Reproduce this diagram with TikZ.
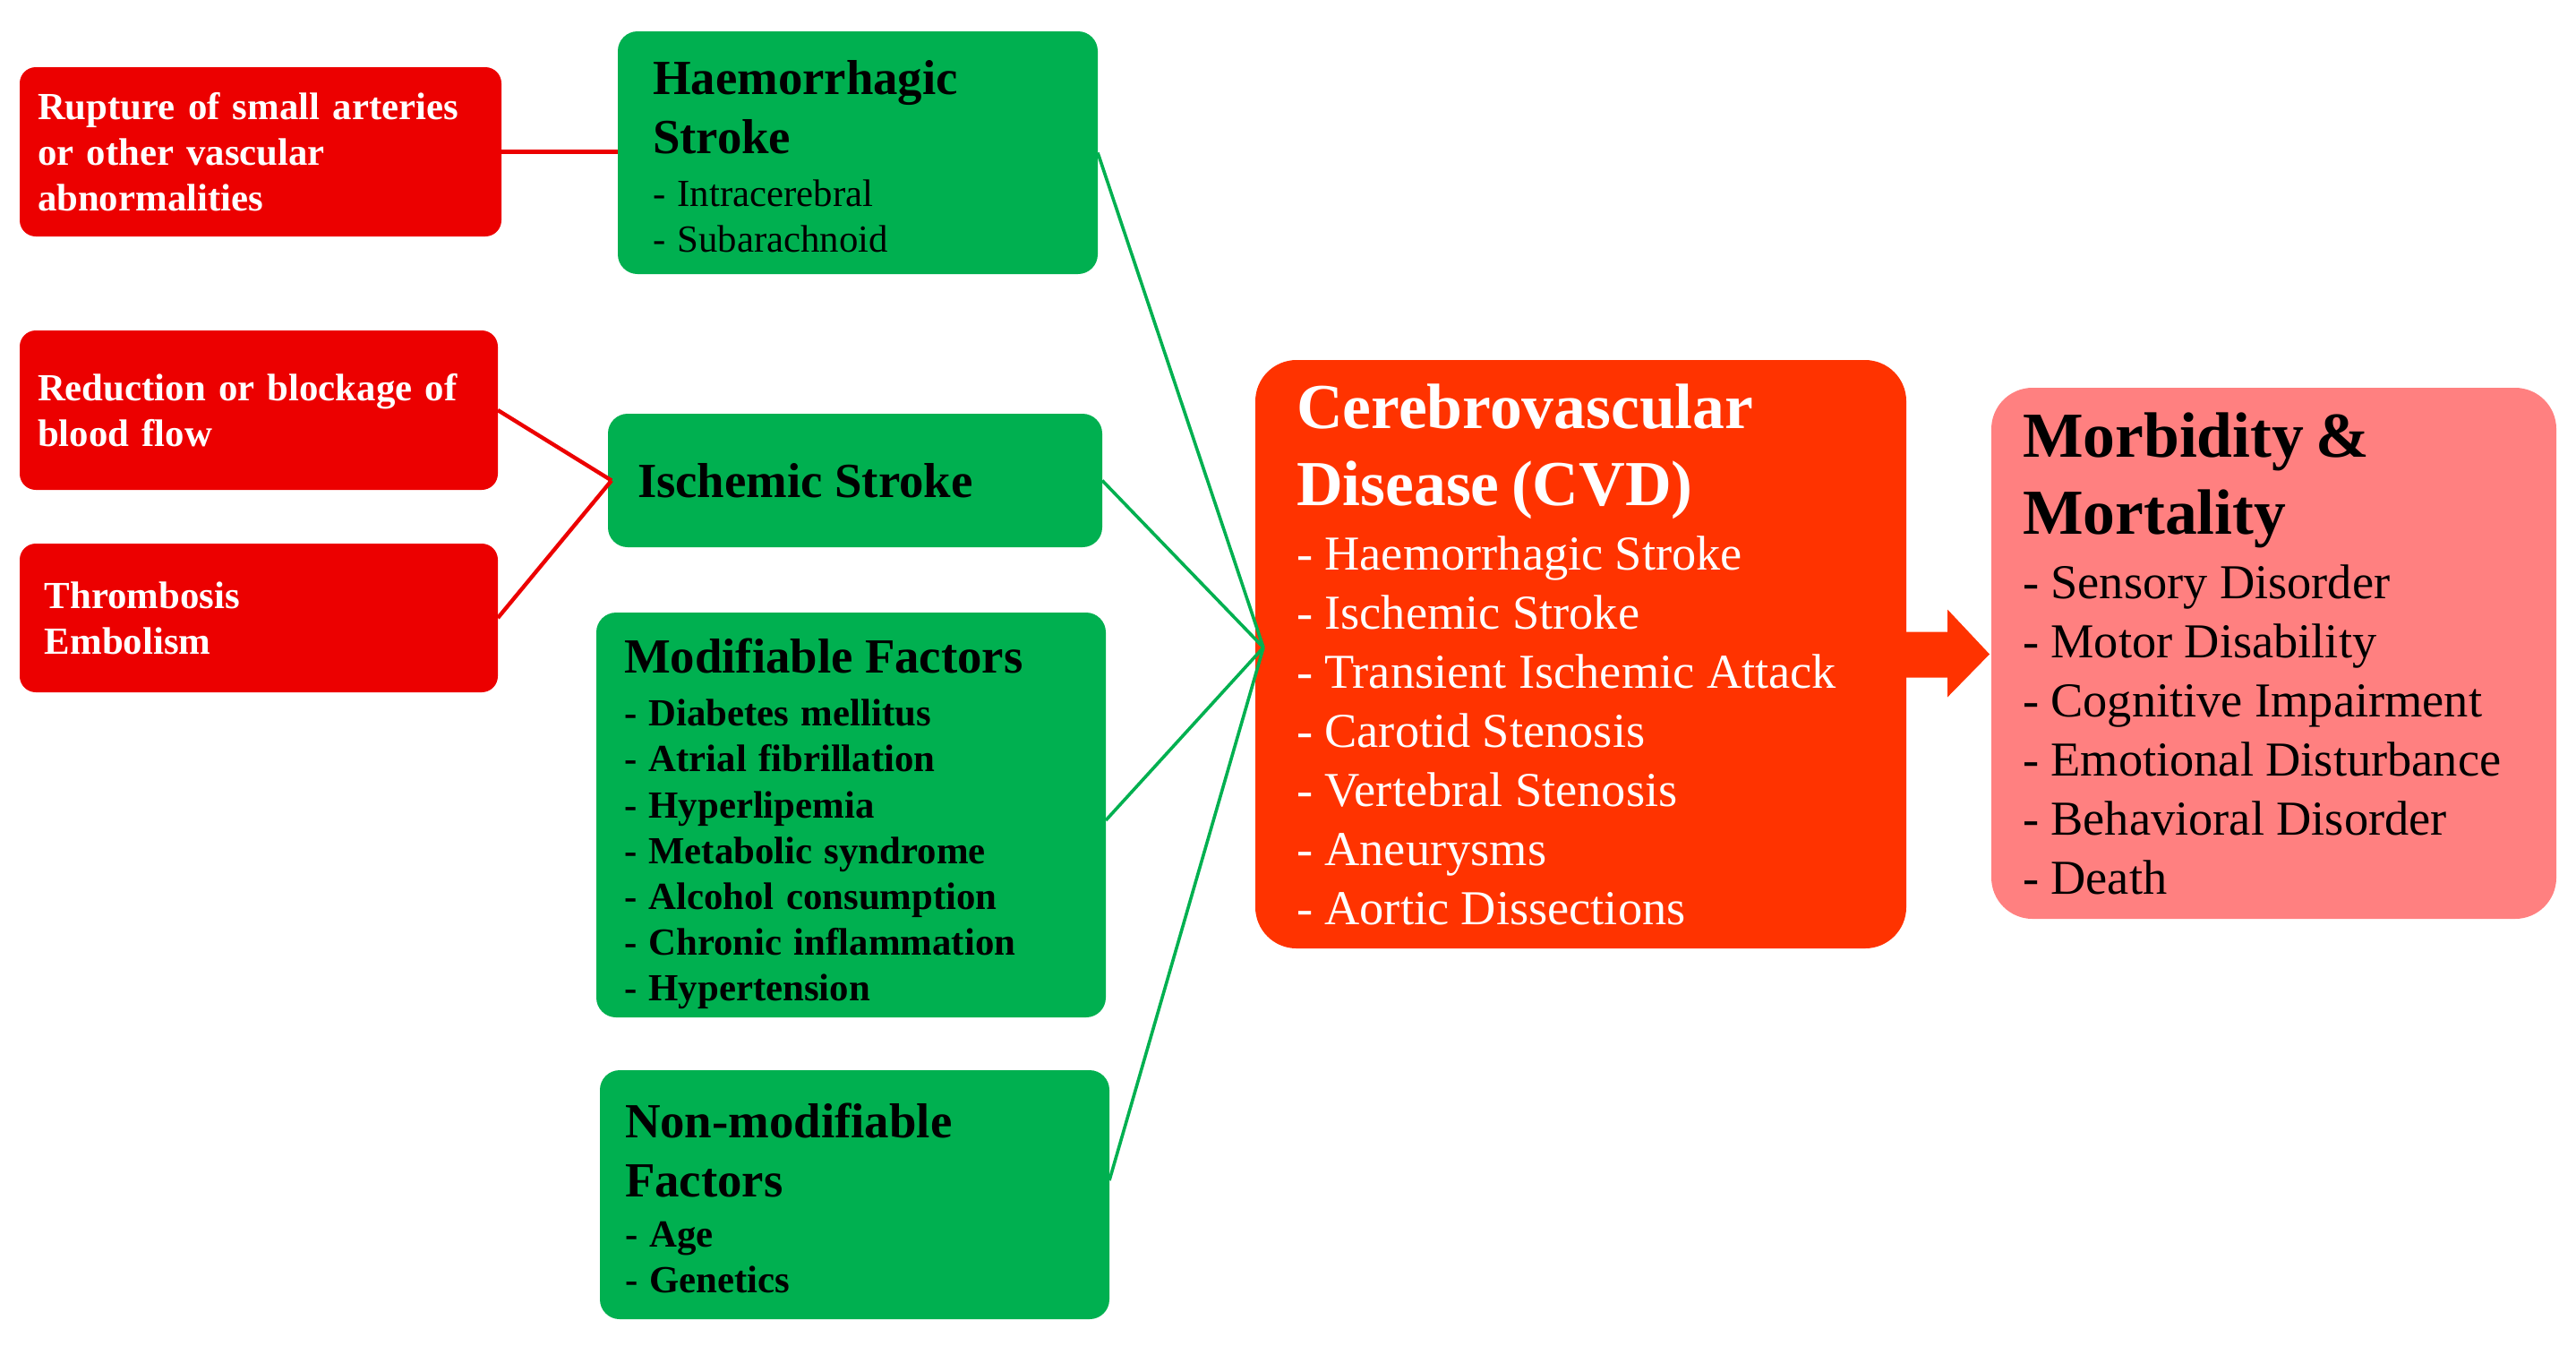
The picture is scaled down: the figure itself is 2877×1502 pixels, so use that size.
\documentclass[tikz,border=0pt]{standalone}
\usepackage{fontspec}
\setmainfont{Liberation Serif}
\usetikzlibrary{calc}
\definecolor{boxred}{RGB}{236,0,0}
\definecolor{boxgreen}{RGB}{0,176,80}
\definecolor{cvdred}{RGB}{255,51,0}
\definecolor{morbpink}{RGB}{255,128,128}
\newcommand\fTitleS{\fontsize{13.7}{16.5}\selectfont\bfseries}
\newcommand\fItemS{\fontsize{10.7}{12.8}\selectfont}
\newcommand\fTitleL{\fontsize{17.9}{21.5}\selectfont\bfseries}
\newcommand\fItemL{\fontsize{13.6}{16.5}\selectfont}
\tikzset{
  box/.style={anchor=north west, align=left, inner ysep=0pt, outer sep=0pt},
  redbox/.style={box, fill=boxred, rounded corners=4.5pt, text=white, font=\fItemS\bfseries},
  greenbox/.style={box, fill=boxgreen, rounded corners=5.5pt, text=black},
  redlink/.style={draw=boxred, line width=1.1pt},
  greenlink/.style={draw=boxgreen, line width=0.9pt},
}
\begin{document}
\begin{tikzpicture}[x=0.25pt, y=-0.25pt]
\useasboundingbox (0,0) rectangle (2877,1502);

% red cause boxes
\node[redbox, text width=124.5pt, inner xsep=5pt, minimum height=47.25pt] (rupt) at (22,75)
  {Rupture of small arteries\\or other vascular\\abnormalities\par};
\node[redbox, text width=123.5pt, inner xsep=5pt, minimum height=44.5pt] (redu) at (22,369)
  {Reduction or blockage of\\blood flow\par};
\node[redbox, text width=119.5pt, inner xsep=7pt, minimum height=41.5pt] (thro) at (22,607)
  {Thrombosis\\Embolism\par};

% green boxes
\node[greenbox, text width=114.5pt, inner xsep=9.75pt, minimum height=67.75pt] (haem) at (690,35)
  {{\fTitleS Haemorrhagic\\Stroke\par}\vspace{2pt}\fItemS - Intracerebral\\- Subarachnoid\par\vspace{-2pt}};
\node[greenbox, text width=121.5pt, inner xsep=8.25pt, minimum height=37.25pt] (isch) at (679,462)
  {\fTitleS Ischemic Stroke\par};
\node[greenbox, text width=126.75pt, inner xsep=7.75pt, minimum height=113pt] (modf) at (666,684)
  {{\fTitleS Modifiable Factors\par}\vspace{2pt}\fItemS\bfseries - Diabetes mellitus\\- Atrial fibrillation\\- Hyperlipemia\\- Metabolic syndrome\\- Alcohol consumption\\- Chronic inflammation\\- Hypertension\par\vspace{-5pt}};
\node[greenbox, text width=128.25pt, inner xsep=7pt, minimum height=69.5pt] (nonm) at (670,1195)
  {{\fTitleS Non-modifiable\\Factors\par}\vspace{1pt}\fItemS\bfseries - Age\\- Genetics\par\vspace{-2pt}};

% CVD
\node[box, fill=cvdred, rounded corners=11.5pt, text=white, text width=158.75pt, inner xsep=11.5pt, minimum height=164.25pt] (cvd) at (1402,402)
  {{\fTitleL Cerebrovascular\\Disease (CVD)\par}\vspace{1.5pt}\fItemL - Haemorrhagic Stroke\\- Ischemic Stroke\\- Transient Ischemic Attack\\- Carotid Stenosis\\- Vertebral Stenosis\\- Aneurysms\\- Aortic Dissections\par};

% Morbidity
\node[box, fill=morbpink, rounded corners=11.5pt, text=black, text width=140.25pt, inner xsep=8.75pt, minimum height=148.25pt] (morb) at (2224,433)
  {{\fTitleL Morbidity \&\\Mortality\par}\vspace{1.5pt}\fItemL - Sensory Disorder\\- Motor Disability\\- Cognitive Impairment\\- Emotional Disturbance\\- Behavioral Disorder\\- Death\par};

% block arrow CVD -> Morbidity
\coordinate (aS) at (cvd.east);
\coordinate (aT) at (morb.west);
\fill[cvdred] ($(aS)+(0,-25)$) -- ($(aS)+(46,-25)$) -- ($(aS)+(46,-50)$)
  -- ($(aT |- aS)+(-2,0)$) -- ($(aS)+(46,48)$) -- ($(aS)+(46,26)$) -- ($(aS)+(0,26)$) -- cycle;

% red connectors
\draw[redlink] (rupt.east) -- (rupt.east -| haem.west);
\draw[redlink] (redu.east) -- ([xshift=1pt]isch.west);
\draw[redlink] (thro.east) -- ([xshift=1pt]isch.west);

% green connectors to CVD
\coordinate (hub) at (1411,723);
\draw[greenlink] (haem.east) -- (hub);
\draw[greenlink] (isch.east) -- (hub);
\draw[greenlink] ([yshift=-1.5pt]modf.east) -- (hub);
\draw[greenlink] ([yshift=4pt]nonm.east) -- (hub);
\end{tikzpicture}
\end{document}
